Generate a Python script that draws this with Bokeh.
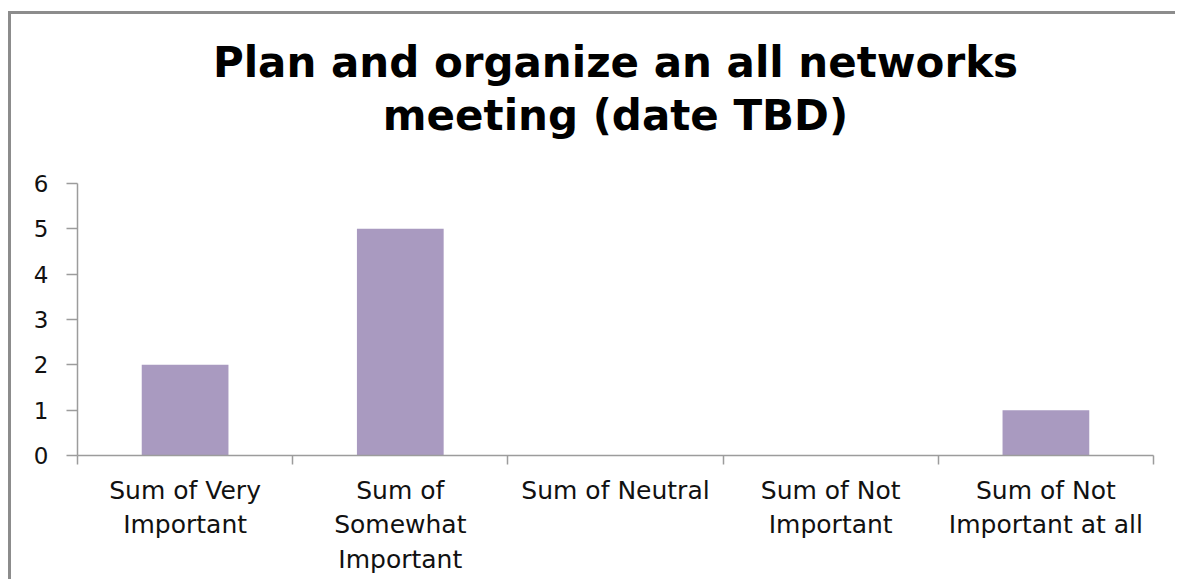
from bokeh.plotting import figure
from bokeh.models import Range1d, FixedTicker, Title, LinearAxis
from bokeh.embed import file_html
from bokeh.resources import INLINE

# ---- data ----
categories = ["Sum of Very\nImportant", "Sum of\nSomewhat\nImportant", "Sum of Neutral",
              "Sum of Not\nImportant", "Sum of Not\nImportant at all"]
values = [2, 5, 0, 0, 1]
y_ticks = [0, 1, 2, 3, 4, 5, 6]
title_line1 = "Plan and organize an all networks"
title_line2 = "meeting (date TBD)"

FONT = "DejaVu Sans"
GRAY = "#9c9c9c"
BAR = "#a99ac0"

positions = [i + 0.5 for i in range(len(categories))]
boundaries = list(range(len(categories) + 1))

p = figure(width=1167, height=568, output_backend="svg", toolbar_location=None,
           title=None, x_range=Range1d(0, len(categories)), y_range=Range1d(0, 6),
           x_axis_type=None, y_axis_type=None,
           min_border_left=66, min_border_right=25, min_border_bottom=127, min_border_top=169)
p.styles = {"border-left": "3px solid #8c8c8c", "border-top": "3px solid #8c8c8c",
            "margin-top": "11px", "margin-left": "8px"}
p.outline_line_color = None
p.background_fill_color = "white"
p.border_fill_color = "white"

p.vbar(x=positions, top=values, bottom=0, width=0.403, fill_color=BAR, line_color=None)

# y axis
yaxis = LinearAxis(ticker=FixedTicker(ticks=y_ticks, minor_ticks=[]))
yaxis.axis_line_color = GRAY
yaxis.axis_line_width = 1.5
yaxis.major_tick_line_color = GRAY
yaxis.major_tick_line_width = 1.5
yaxis.major_tick_out = 11
yaxis.major_tick_in = 0
yaxis.minor_tick_line_color = None
yaxis.major_label_standoff = 18
yaxis.major_label_text_font = FONT
yaxis.major_label_text_font_size = "23px"
yaxis.major_label_text_color = "#111111"
p.add_layout(yaxis, "left")

# x axis: labels centred between boundary ticks
xaxis = LinearAxis(ticker=FixedTicker(ticks=positions, minor_ticks=boundaries))
xaxis.major_label_overrides = {pos: lab for pos, lab in zip(positions, categories)}
xaxis.axis_line_color = GRAY
xaxis.axis_line_width = 1.5
xaxis.major_tick_line_color = None
xaxis.major_tick_out = 0
xaxis.major_tick_in = 0
xaxis.minor_tick_line_color = GRAY
xaxis.minor_tick_line_width = 1.5
xaxis.minor_tick_out = 9
xaxis.minor_tick_in = 0
xaxis.major_label_standoff = 11
xaxis.major_label_text_font = FONT
xaxis.major_label_text_font_size = "25px"
xaxis.major_label_text_line_height = 1.2
xaxis.major_label_text_color = "#111111"
xaxis.major_label_orientation = "horizontal"
p.add_layout(xaxis, "below")

# grid
p.ygrid.grid_line_color = GRAY
p.ygrid.grid_line_width = 1.5
p.ygrid.ticker = FixedTicker(ticks=y_ticks)

# titles: spacer nearest the plot, then line 2, then line 1
spacer = Title(text=" ", text_font_size="10px", standoff=30)
p.add_layout(spacer, "above")
t2 = Title(text=title_line2, align="center", text_font=FONT, text_font_size="42px",
           text_font_style="bold", text_color="black", standoff=2)
p.add_layout(t2, "above")
t1 = Title(text=title_line1, align="center", text_font=FONT, text_font_size="42px",
           text_font_style="bold", text_color="black", standoff=2)
p.add_layout(t1, "above")

open("out.html", "w").write(file_html(p, INLINE))
